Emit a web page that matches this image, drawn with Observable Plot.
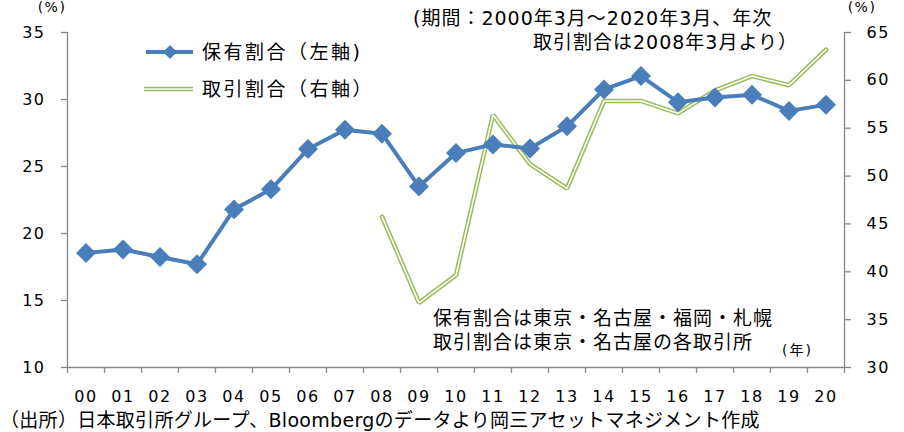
<!DOCTYPE html>
<html><head><meta charset="utf-8">
<script src="https://cdn.jsdelivr.net/npm/d3@7"></script>
<script src="https://cdn.jsdelivr.net/npm/@observablehq/plot@0.6"></script>
<style>
body{margin:0;background:#fff;}
#chart{width:904px;height:432px;}
g[aria-label$="tick label"] text{letter-spacing:1.5px;}
</style></head><body><div id="chart"></div>
<script>
const yearLabels = ["00","01","02","03","04","05","06","07","08","09","10","11","12","13","14","15","16","17","18","19","20"];
const holdingShare = [18.55,18.8,18.25,17.7,21.8,23.3,26.3,27.75,27.45,23.5,26.0,26.65,26.35,28.0,30.75,31.75,29.8,30.15,30.35,29.15,29.6];
const tradingYears = ["08","09","10","11","12","13","14","15","16","17","18","19","20"];
const tradingShare = [45.75,36.75,39.65,56.4,51.25,48.7,57.85,57.85,56.55,58.95,60.45,59.5,63.2];
const leftTicks = [10,15,20,25,30,35];
const rightTicks = [30,35,40,45,50,55,60,65];
const leftDomain = [10,35];
const rightDomain = [30,65];

const BLUE = "#4A7EBB", GREEN = "#9BBB59", AXIS = "#888888";
const FONT = '"DejaVu Sans","Noto Sans CJK JP",sans-serif';

const k = (leftDomain[1]-leftDomain[0])/(rightDomain[1]-rightDomain[0]);
const toLeft = v => leftDomain[0] + (v - rightDomain[0]) * k;
const fromLeft = v => rightDomain[0] + (v - leftDomain[0]) / k;

const holding = yearLabels.map((label,i)=>({i, label, value: holdingShare[i]}));
const trading = tradingYears.map((label,j)=>({i: yearLabels.indexOf(label), label, value: toLeft(tradingShare[j])}));
const n = yearLabels.length;

const chart = Plot.plot({
  width: 904, height: 432,
  marginLeft: 67, marginRight: 60, marginTop: 32, marginBottom: 65,
  style: {fontFamily: FONT, background: "#fff", overflow: "visible", color: "#000"},
  x: {domain: [-0.5, n - 0.5]},
  y: {domain: leftDomain},
  marks: [
    Plot.axisY(leftTicks, {anchor: "left", tickSize: 6, tickPadding: 16, stroke: AXIS, strokeWidth: 1.3, fill: "#000", fontSize: 16, label: null}),
    Plot.axisY(rightTicks.map(toLeft), {anchor: "right", tickSize: 6, tickPadding: 16, stroke: AXIS, strokeWidth: 1.3, fill: "#000", fontSize: 16, label: null, tickFormat: v => String(Math.round(fromLeft(v)))}),
    Plot.axisX(d3.range(n + 1).map(i => i - 0.5), {tickSize: 6, tickFormat: () => "", stroke: AXIS, strokeWidth: 1.3, label: null}),
    Plot.axisX(d3.range(n), {tickSize: 0, tickPadding: 23, tickFormat: i => yearLabels[i], fill: "#000", fontSize: 16, label: null}),
    Plot.ruleX([-0.5, n - 0.5], {stroke: AXIS, strokeWidth: 1.3}),
    Plot.ruleY([leftDomain[0]], {stroke: AXIS, strokeWidth: 1.3}),
    Plot.line(trading, {x: "i", y: "value", stroke: GREEN, strokeWidth: 4.6, strokeLinejoin: "miter"}),
    Plot.line(trading, {x: "i", y: "value", stroke: "#fff", strokeWidth: 1.6, strokeLinejoin: "miter"}),
    Plot.line(holding, {x: "i", y: "value", stroke: BLUE, strokeWidth: 4}),
    Plot.dot(holding, {x: "i", y: "value", symbol: "diamond2", r: 9, fill: BLUE, stroke: "none"})
  ]
});
document.getElementById("chart").appendChild(chart);

const svg = d3.select(chart);
function addText(x, y, str, size, ls, anchor) {
  svg.append("text").attr("x", x).attr("y", y).attr("dy", "0.36em")
    .attr("font-size", size).attr("font-family", FONT)
    .attr("letter-spacing", ls || 0).attr("text-anchor", anchor || "start")
    .attr("fill", "#000").text(str);
}
addText(52, 7, "(%)", 14, 1.5, "middle");
addText(862, 7, "(%)", 14, 1.5, "middle");
addText(413, 18, "(期間：2000年3月～2020年3月、年次", 19, 1);
addText(533, 42, "取引割合は2008年3月より）", 19, 1);
addText(433, 318, "保有割合は東京・名古屋・福岡・札幌", 19, 1);
addText(433, 342, "取引割合は東京・名古屋の各取引所", 19, 1);
addText(782, 350, "(年)", 14, 2);
addText(0, 420, "（出所）日本取引所グループ、Bloombergのデータより岡三アセットマネジメント作成", 19, 0.3);

// legend
const lg = svg.append("g");
lg.append("line").attr("x1", 146).attr("x2", 193).attr("y1", 52).attr("y2", 52).attr("stroke", BLUE).attr("stroke-width", 4);
lg.append("path").attr("d", "M170,45L177,52L170,59L163,52Z").attr("fill", BLUE);
lg.append("line").attr("x1", 144).attr("x2", 193).attr("y1", 89).attr("y2", 89).attr("stroke", GREEN).attr("stroke-width", 4.6);
lg.append("line").attr("x1", 144).attr("x2", 193).attr("y1", 89).attr("y2", 89).attr("stroke", "#fff").attr("stroke-width", 1.6);
addText(202, 52, "保有割合（左軸)", 19, 2.5);
addText(202, 89, "取引割合（右軸）", 19, 2.5);
</script></body></html>
